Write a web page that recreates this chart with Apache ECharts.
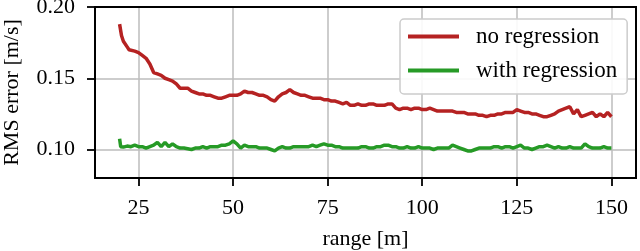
<!DOCTYPE html>
<html>
<head>
<meta charset="utf-8">
<script src="https://cdn.jsdelivr.net/npm/echarts@6/dist/echarts.min.js"></script>
<style>
html,body{margin:0;padding:0;background:#fff;}
#chart{width:640px;height:251px;}
</style>
</head>
<body>
<div id="chart"></div>
<script>
// ---- data ----
const seriesNames = ["no regression", "with regression"];
const xTicks = [25, 50, 75, 100, 125, 150];
const yTicks = [0.10, 0.15, 0.20];

const rangeNoReg = [20,20.5,21,22,22.5,23,24,25,26,27,28,29,30,31,32,33,34,35,36,37,38,39,40,41,42,43,44,45,46,47,48,49,50,51,52,53,54,55,56,57,58,59,60,61,62,63,64,65,66,67,68,69,70,71,72,73,74,75,76,77,78,79,80,81,82,83,84,85,86,87,88,89,90,91,92,93,94,95,96,97,98,99,100,101,102,103,104,105,106,107,108,109,110,111,112,113,114,115,116,117,118,119,120,121,122,123,124,125,126,127,128,129,130,131,132,133,134,135,136,137,138,139,140,141,142,143,144,145,146,147,148,149,150];
const errNoReg = [0.188,0.180,0.176,0.172,0.170,0.171,0.169,0.168,0.166,0.164,0.160,0.154,0.153,0.152,0.150,0.149,0.148,0.146,0.143,0.143,0.143,0.141,0.140,0.139,0.139,0.138,0.138,0.137,0.136,0.136,0.137,0.138,0.138,0.138,0.139,0.141,0.140,0.140,0.139,0.138,0.138,0.137,0.135,0.134,0.137,0.139,0.140,0.142,0.140,0.139,0.138,0.138,0.137,0.136,0.136,0.136,0.135,0.135,0.134,0.134,0.133,0.132,0.133,0.131,0.131,0.132,0.131,0.131,0.132,0.132,0.131,0.131,0.131,0.132,0.132,0.129,0.128,0.129,0.129,0.128,0.129,0.129,0.128,0.128,0.129,0.128,0.127,0.127,0.127,0.127,0.127,0.126,0.126,0.126,0.125,0.125,0.125,0.124,0.124,0.123,0.124,0.124,0.125,0.125,0.126,0.126,0.126,0.128,0.127,0.126,0.126,0.125,0.125,0.124,0.123,0.123,0.124,0.125,0.127,0.128,0.129,0.130,0.125,0.128,0.123,0.124,0.125,0.126,0.123,0.125,0.123,0.126,0.123];

const rangeWithReg = [20,20.3,21,22,23,24,25,26,27,28,29,30,31,32,33,34,35,36,37,38,39,40,41,42,43,44,45,46,47,48,49,50,51,52,53,54,55,56,57,58,59,60,61,62,63,64,65,66,67,68,69,70,71,72,73,74,75,76,77,78,79,80,81,82,83,84,85,86,87,88,89,90,91,92,93,94,95,96,97,98,99,100,101,102,103,104,105,106,107,108,109,110,111,112,113,114,115,116,117,118,119,120,121,122,123,124,125,126,127,128,129,130,131,132,133,134,135,136,137,138,139,140,141,142,143,144,145,146,147,148,149,150];
const errWithReg = [0.1076,0.102,0.1017,0.1024,0.102,0.103,0.102,0.102,0.101,0.102,0.103,0.105,0.102,0.105,0.102,0.104,0.102,0.101,0.101,0.1005,0.100,0.101,0.101,0.102,0.101,0.102,0.102,0.102,0.103,0.103,0.104,0.106,0.104,0.101,0.103,0.102,0.102,0.102,0.101,0.101,0.101,0.100,0.099,0.101,0.102,0.101,0.101,0.102,0.102,0.102,0.102,0.102,0.103,0.102,0.103,0.104,0.103,0.103,0.102,0.102,0.101,0.101,0.101,0.101,0.101,0.102,0.102,0.101,0.101,0.102,0.102,0.103,0.103,0.102,0.102,0.101,0.101,0.102,0.101,0.101,0.102,0.101,0.101,0.101,0.100,0.101,0.101,0.101,0.101,0.103,0.102,0.101,0.100,0.099,0.099,0.100,0.101,0.101,0.101,0.101,0.102,0.102,0.101,0.102,0.102,0.101,0.102,0.103,0.101,0.101,0.100,0.101,0.102,0.102,0.103,0.102,0.101,0.102,0.101,0.101,0.102,0.101,0.101,0.101,0.104,0.102,0.101,0.101,0.101,0.102,0.101,0.101];

const xMin = 13.5, xMax = 156.5, yMin = 0.08, yMax = 0.20;

function pairs(xs, ys) { return xs.map((x, i) => [x, ys[i]]); }

const FONT = '"Liberation Serif", "DejaVu Serif", serif';
const frameLine = {show: true, onZero: false, lineStyle: {color: '#000', width: 2}};
const chart = echarts.init(document.getElementById('chart'), null, {renderer: 'canvas'});
chart.setOption({
  animation: false,
  backgroundColor: '#ffffff',
  grid: {left: 95, right: 4, top: 7, bottom: 73, outerBoundsMode: 'none', containLabel: false,
         show: true, borderColor: '#000', borderWidth: 2, backgroundColor: 'transparent'},
  legend: {
    orient: 'vertical',
    left: 400, top: 19,
    icon: 'rect',
    itemWidth: 51, itemHeight: 4,
    itemGap: 11,
    padding: [6, 10, 12, 8],
    backgroundColor: 'rgba(255,255,255,0.9)',
    borderColor: '#cccccc', borderWidth: 1.5, borderRadius: 4,
    textStyle: {fontFamily: FONT, fontSize: 23, color: '#000', lineHeight: 22, padding: [0, 0, 0, 12]},
    data: seriesNames
  },
  xAxis: [{
    type: 'value', min: xMin, max: xMax,
    name: 'range [m]', nameLocation: 'middle', nameGap: 50,
    nameTextStyle: {fontFamily: FONT, fontSize: 22, color: '#000'},
    axisLine: frameLine,
    axisTick: {show: true, inside: false, length: 8, customValues: xTicks, lineStyle: {color: '#000', width: 1.8}},
    axisLabel: {customValues: xTicks, margin: 19, fontFamily: FONT, fontSize: 22, color: '#000'},
    splitLine: {show: true, lineStyle: {color: '#bdbdbd', width: 1.5}}
  }, {
    type: 'value', min: xMin, max: xMax, position: 'top',
    axisLine: frameLine, axisTick: {show: false}, axisLabel: {show: false}, splitLine: {show: false}
  }],
  yAxis: [{
    type: 'value', min: yMin, max: yMax,
    name: 'RMS error [m/s]', nameLocation: 'middle', nameGap: 72,
    nameTextStyle: {fontFamily: FONT, fontSize: 22, color: '#000'},
    axisLine: frameLine,
    axisTick: {show: true, inside: false, length: 8, customValues: yTicks, lineStyle: {color: '#000', width: 1.8}},
    axisLabel: {customValues: yTicks, margin: 20, fontFamily: FONT, fontSize: 22, color: '#000', formatter: v => v.toFixed(2)},
    splitLine: {show: true, lineStyle: {color: '#bdbdbd', width: 1.5}}
  }, {
    type: 'value', min: yMin, max: yMax, position: 'right',
    axisLine: frameLine, axisTick: {show: false}, axisLabel: {show: false}, splitLine: {show: false}
  }],
  series: [
    {name: seriesNames[0], type: 'line', data: pairs(rangeNoReg, errNoReg), showSymbol: false, symbol: 'none',
     lineStyle: {color: '#b52222', width: 3.5}, itemStyle: {color: '#b52222'}, z: 3},
    {name: seriesNames[1], type: 'line', data: pairs(rangeWithReg, errWithReg), showSymbol: false, symbol: 'none',
     lineStyle: {color: '#269a26', width: 3.5}, itemStyle: {color: '#269a26'}, z: 3}
  ]
});
</script>
</body>
</html>
